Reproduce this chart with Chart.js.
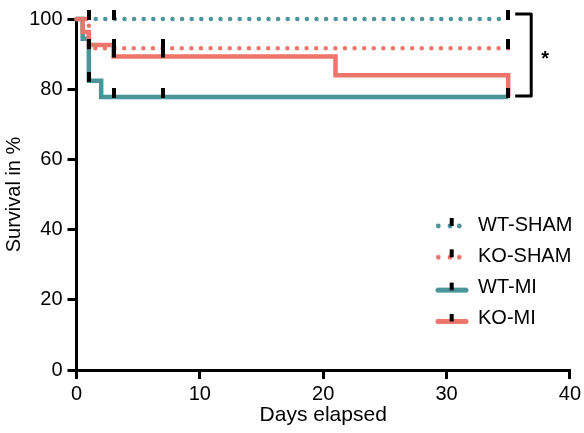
<!DOCTYPE html>
<html><head><meta charset="utf-8">
<script src="https://cdn.jsdelivr.net/npm/chart.js@4.4.1/dist/chart.umd.min.js"></script>
<style>html,body{margin:0;padding:0;background:#fff;}#wrap{width:584px;height:433px;}</style>
</head><body><div id="wrap"><canvas id="c" width="584" height="433"></canvas></div>
<script>
// ---- data ----
const seriesNames = ['WT-SHAM', 'KO-SHAM', 'WT-MI', 'KO-MI'];
const wtShamDays = [0, 35];
const wtShamSurv = [100, 100];
const wtShamCensored = [1, 3, 35];
const koShamDays = [0, 1, 35];
const koShamSurv = [100, 91.7, 91.7];
const koShamCensored = [1, 3, 7, 35];
const wtMiDays = [0, 0.5, 1, 2, 35];
const wtMiSurv = [100, 94.4, 82.4, 77.8, 77.8];
const wtMiCensored = [1, 3, 7, 35];
const koMiDays = [0, 0.5, 1, 3, 21, 35];
const koMiSurv = [100, 96.3, 92.6, 89.3, 84.0, 77.8];
const koMiCensored = [3, 7, 35];
const xTickValues = [0, 10, 20, 30, 40];
const yTickValues = [0, 20, 40, 60, 80, 100];
const sigLabel = '*';

// ---- styles ----
const TEAL = '#4a9599';
const SALMON = '#ec766c';
const FONT = '"Liberation Sans", Arial, Helvetica, sans-serif';
const colors = [TEAL, SALMON, TEAL, SALMON];
const dotted = [true, true, false, false];

const seriesDays = [wtShamDays, koShamDays, wtMiDays, koMiDays];
const seriesSurv = [wtShamSurv, koShamSurv, wtMiSurv, koMiSurv];
const seriesCens = [wtShamCensored, koShamCensored, wtMiCensored, koMiCensored];

function survAt(days, surv, t) {
  let v = surv[0];
  for (let i = 0; i < days.length; i++) if (days[i] <= t) v = surv[i];
  return v;
}

function makeMark() {
  const c = document.createElement('canvas');
  c.width = 4; c.height = 18;
  const g = c.getContext('2d');
  g.fillStyle = '#000';
  g.fillRect(0, 0, 4, 10);
  return c;
}
const markImg = makeMark();

function legendIcon(color, isDotted) {
  const c = document.createElement('canvas');
  c.width = 34; c.height = 20;
  const g = c.getContext('2d');
  g.fillStyle = color; g.strokeStyle = color;
  if (isDotted) {
    [3.3, 15, 24.3].forEach(x => { g.beginPath(); g.arc(x, 11, 2.4, 0, Math.PI * 2); g.fill(); });
    g.fillStyle = '#000'; g.fillRect(14.7, 3, 4, 8);
  } else {
    g.lineWidth = 5; g.lineCap = 'round';
    g.beginPath(); g.moveTo(3, 12.5); g.lineTo(31, 12.5); g.stroke();
    g.fillStyle = '#000'; g.fillRect(14.7, 5, 4, 7.5);
  }
  return c;
}
const icons = seriesNames.map((n, i) => legendIcon(colors[i], dotted[i]));

const datasets = [];
// censor marks (drawn on top)
seriesNames.forEach((n, i) => {
  datasets.push({
    type: 'scatter', label: n + ' censored', order: 0, clip: false,
    data: seriesCens[i].map(t => ({ x: t, y: survAt(seriesDays[i], seriesSurv[i], t) })),
    pointStyle: markImg, pointRadius: 5, pointHoverRadius: 5, showLine: false
  });
});
// survival curves
seriesNames.forEach((n, i) => {
  datasets.push({
    type: 'line', label: n, order: 1 + (3 - i), clip: false,
    data: seriesDays[i].map((d, k) => ({ x: d, y: seriesSurv[i][k] })),
    stepped: true, borderColor: colors[i], backgroundColor: colors[i],
    borderWidth: 4.5,
    borderDash: dotted[i] ? [0, 9.6] : [],
    borderCapStyle: dotted[i] ? 'round' : 'butt',
    borderJoinStyle: 'miter',
    pointRadius: 0, fill: false, tension: 0
  });
});

const legendPlacer = {
  id: 'legendPlacer',
  afterLayout(chart) {
    const lg = chart.legend;
    if (!lg) return;
    const pad = lg.options.labels.padding;
    lg.left = 436 - pad; lg.top = 215 - pad;
    lg.width = 584 - lg.left; lg.height = 200;
    lg.right = 584; lg.bottom = lg.top + 200;
  }
};

const sigPlugin = {
  id: 'sig',
  afterDatasetsDraw(chart) {
    const { ctx, scales: { x, y } } = chart;
    const lastDay = Math.max(...wtShamDays);
    const xe = x.getPixelForValue(lastDay);
    const yT = y.getPixelForValue(survAt(wtShamDays, wtShamSurv, lastDay)) - 5;
    const yB = y.getPixelForValue(survAt(wtMiDays, wtMiSurv, lastDay)) - 1;
    const x0 = xe + 7, x1 = xe + 23;
    ctx.save();
    ctx.strokeStyle = '#000'; ctx.lineWidth = 3; ctx.lineJoin = 'round';
    ctx.beginPath(); ctx.moveTo(x0, yT); ctx.lineTo(x1, yT); ctx.lineTo(x1, yB); ctx.lineTo(x0, yB); ctx.stroke();
    ctx.fillStyle = '#000'; ctx.font = 'bold 20px ' + FONT;
    ctx.textAlign = 'center'; ctx.textBaseline = 'middle';
    ctx.fillText(sigLabel, x1 + 14, (yT + yB) / 2 + 5);
    ctx.restore();
  }
};

new Chart(document.getElementById('c'), {
  data: { datasets },
  plugins: [legendPlacer, sigPlugin],
  options: {
    responsive: false, animation: false, devicePixelRatio: 1,
    layout: { padding: { top: 19, right: 12.3, left: 0, bottom: 0 } },
    plugins: {
      tooltip: { enabled: false },
      legend: {
        display: true, position: 'chartArea', align: 'start',
        labels: {
          usePointStyle: true, pointStyleWidth: 32, boxWidth: 32, boxHeight: 20,
          padding: 11.3, color: '#000', font: { size: 20, family: FONT },
          generateLabels: () => seriesNames.map((n, i) => ({
            text: n, pointStyle: icons[i], fillStyle: colors[i], strokeStyle: colors[i],
            lineWidth: 0, hidden: false, fontColor: '#000', datasetIndex: 4 + i
          }))
        }
      }
    },
    scales: {
      x: {
        type: 'linear', min: 0, max: 40,
        afterFit: s => { s.height = 63; },
        afterBuildTicks: s => { s.ticks = xTickValues.map(v => ({ value: v })); },
        border: { display: true, color: '#000', width: 3 },
        grid: { display: true, drawOnChartArea: false, drawTicks: true, color: '#000', lineWidth: 3, tickLength: 9 },
        ticks: { color: '#000', font: { size: 20, family: FONT }, padding: 3, maxRotation: 0 },
        title: { display: true, text: 'Days elapsed', color: '#000', font: { size: 21, family: FONT }, padding: { top: 0, bottom: 5 } }
      },
      y: {
        type: 'linear', min: 0, max: 100,
        afterFit: s => { s.width = 76.5; },
        afterBuildTicks: s => { s.ticks = yTickValues.map(v => ({ value: v })); },
        border: { display: true, color: '#000', width: 3 },
        grid: { display: true, drawOnChartArea: false, drawTicks: true, color: '#000', lineWidth: 3, tickLength: 9 },
        ticks: { color: '#000', font: { size: 20, family: FONT }, padding: 5 },
        title: { display: true, text: 'Survival in %', color: '#000', font: { size: 20, family: FONT }, padding: { top: 2, bottom: 0 } }
      }
    }
  }
});
</script></body></html>
